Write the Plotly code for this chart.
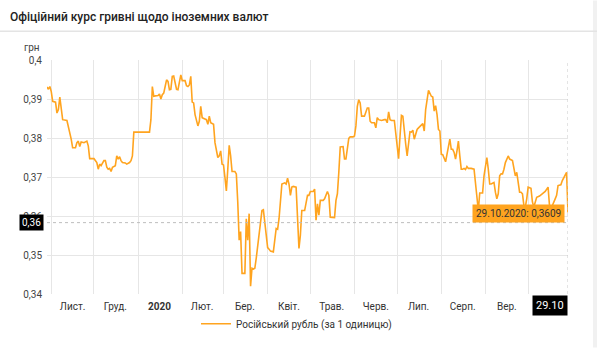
import plotly.graph_objects as go

# Official UAH rate for the Russian rouble (per 1 unit)
dates = [
    "2019-10-29", "2019-10-30", "2019-10-31", "2019-11-01", "2019-11-02", "2019-11-04",
    "2019-11-05", "2019-11-06", "2019-11-07", "2019-11-08", "2019-11-09", "2019-11-12",
    "2019-11-13", "2019-11-15", "2019-11-16", "2019-11-18", "2019-11-19", "2019-11-20",
    "2019-11-21", "2019-11-22", "2019-11-24", "2019-11-26", "2019-11-27", "2019-11-28",
    "2019-12-01", "2019-12-03", "2019-12-04", "2019-12-05", "2019-12-06", "2019-12-08",
    "2019-12-09", "2019-12-10", "2019-12-11", "2019-12-12", "2019-12-13", "2019-12-14",
    "2019-12-16", "2019-12-17", "2019-12-18", "2019-12-19", "2019-12-20", "2019-12-21",
    "2019-12-23", "2019-12-24", "2019-12-26", "2019-12-27", "2019-12-28", "2019-12-29",
    "2020-01-09", "2020-01-10", "2020-01-11", "2020-01-12", "2020-01-13", "2020-01-15",
    "2020-01-16", "2020-01-17", "2020-01-18", "2020-01-19", "2020-01-20", "2020-01-21",
    "2020-01-22", "2020-01-23", "2020-01-24", "2020-01-25", "2020-01-26", "2020-01-27",
    "2020-01-28", "2020-01-29", "2020-01-30", "2020-01-31", "2020-02-01", "2020-02-03",
    "2020-02-04", "2020-02-05", "2020-02-06", "2020-02-07", "2020-02-08", "2020-02-09",
    "2020-02-10", "2020-02-12", "2020-02-13", "2020-02-14", "2020-02-15", "2020-02-17",
    "2020-02-18", "2020-02-19", "2020-02-20", "2020-02-21", "2020-02-23", "2020-02-24",
    "2020-02-26", "2020-02-27", "2020-02-28", "2020-02-29", "2020-03-01", "2020-03-02",
    "2020-03-03", "2020-03-04", "2020-03-05", "2020-03-06", "2020-03-07", "2020-03-09",
    "2020-03-10", "2020-03-11", "2020-03-12", "2020-03-13", "2020-03-14", "2020-03-16",
    "2020-03-17", "2020-03-18", "2020-03-19", "2020-03-20", "2020-03-21", "2020-03-22",
    "2020-03-23", "2020-03-24", "2020-03-25", "2020-03-26", "2020-03-28", "2020-03-29",
    "2020-03-30", "2020-04-01", "2020-04-02", "2020-04-03", "2020-04-05", "2020-04-06",
    "2020-04-07", "2020-04-08", "2020-04-09", "2020-04-11", "2020-04-13", "2020-04-14",
    "2020-04-15", "2020-04-16", "2020-04-17", "2020-04-18", "2020-04-19", "2020-04-21",
    "2020-04-22", "2020-04-23", "2020-04-24", "2020-04-25", "2020-04-27", "2020-04-28",
    "2020-04-29", "2020-04-30", "2020-05-01", "2020-05-03", "2020-05-04", "2020-05-05",
    "2020-05-06", "2020-05-07", "2020-05-08", "2020-05-10", "2020-05-11", "2020-05-13",
    "2020-05-14", "2020-05-15", "2020-05-17", "2020-05-18", "2020-05-19", "2020-05-20",
    "2020-05-21", "2020-05-22", "2020-05-24", "2020-05-25", "2020-05-26", "2020-05-28",
    "2020-05-29", "2020-05-31", "2020-06-01", "2020-06-02", "2020-06-03", "2020-06-04",
    "2020-06-05", "2020-06-06", "2020-06-08", "2020-06-10", "2020-06-11", "2020-06-12",
    "2020-06-13", "2020-06-15", "2020-06-16", "2020-06-17", "2020-06-18", "2020-06-20",
    "2020-06-22", "2020-06-23", "2020-06-24", "2020-06-25", "2020-06-26", "2020-06-27",
    "2020-06-29", "2020-06-30", "2020-07-01", "2020-07-02", "2020-07-03", "2020-07-04",
    "2020-07-05", "2020-07-06", "2020-07-07", "2020-07-08", "2020-07-09", "2020-07-10",
    "2020-07-11", "2020-07-12", "2020-07-13", "2020-07-15", "2020-07-16", "2020-07-18",
    "2020-07-19", "2020-07-20", "2020-07-21", "2020-07-23", "2020-07-25", "2020-07-26",
    "2020-07-27", "2020-07-28", "2020-07-29", "2020-07-30", "2020-07-31", "2020-08-01",
    "2020-08-02", "2020-08-04", "2020-08-05", "2020-08-06", "2020-08-07", "2020-08-08",
    "2020-08-09", "2020-08-10", "2020-08-11", "2020-08-12", "2020-08-13", "2020-08-14",
    "2020-08-15", "2020-08-16", "2020-08-17", "2020-08-18", "2020-08-19", "2020-08-20",
    "2020-08-22", "2020-08-24", "2020-08-25", "2020-08-26", "2020-08-27", "2020-08-28",
    "2020-08-30", "2020-08-31", "2020-09-01", "2020-09-02", "2020-09-03", "2020-09-04",
    "2020-09-05", "2020-09-07", "2020-09-08", "2020-09-09", "2020-09-10", "2020-09-11",
    "2020-09-12", "2020-09-13", "2020-09-14", "2020-09-15", "2020-09-17", "2020-09-18",
    "2020-09-20", "2020-09-22", "2020-09-23", "2020-09-24", "2020-09-25", "2020-09-26",
    "2020-09-27", "2020-09-28", "2020-09-29", "2020-09-30", "2020-10-01", "2020-10-03",
    "2020-10-04", "2020-10-05", "2020-10-07", "2020-10-09", "2020-10-11", "2020-10-13",
    "2020-10-15", "2020-10-16", "2020-10-17", "2020-10-18", "2020-10-20", "2020-10-21",
    "2020-10-22", "2020-10-24", "2020-10-25", "2020-10-27", "2020-10-28", "2020-10-29",
]

rub_rate = [
    0.3931, 0.3925, 0.3932, 0.3919, 0.3894, 0.3892,
    0.3864, 0.3873, 0.3905, 0.3881, 0.3847, 0.3845,
    0.3831, 0.3797, 0.3775, 0.3775, 0.3788, 0.3792,
    0.3778, 0.3790, 0.3788, 0.3792, 0.3780, 0.3747,
    0.3747, 0.3737, 0.3720, 0.3733, 0.3729, 0.3742,
    0.3742, 0.3725, 0.3720, 0.3722, 0.3714, 0.3725,
    0.3729, 0.3754, 0.3746, 0.3752, 0.3742, 0.3737,
    0.3736, 0.3733, 0.3737, 0.3742, 0.3754, 0.3815,
    0.3815, 0.3847, 0.3932, 0.3907, 0.3908, 0.3909,
    0.3913, 0.3900, 0.3911, 0.3915, 0.3932, 0.3949,
    0.3945, 0.3924, 0.3925, 0.3958, 0.3959, 0.3941,
    0.3925, 0.3924, 0.3945, 0.3962, 0.3947, 0.3947,
    0.3934, 0.3932, 0.3936, 0.3958, 0.3892, 0.3890,
    0.3860, 0.3831, 0.3843, 0.3881, 0.3852, 0.3849,
    0.3847, 0.3835, 0.3856, 0.3839, 0.3835, 0.3788,
    0.3750, 0.3754, 0.3767, 0.3733, 0.3731, 0.3699,
    0.3664, 0.3720, 0.3781, 0.3754, 0.3714, 0.3714,
    0.3708, 0.3636, 0.3538, 0.3560, 0.3453, 0.3453,
    0.3593, 0.3538, 0.3606, 0.3420, 0.3466, 0.3464,
    0.3466, 0.3492, 0.3525, 0.3559, 0.3614, 0.3616,
    0.3585, 0.3519, 0.3515, 0.3510, 0.3508, 0.3542,
    0.3568, 0.3566, 0.3593, 0.3682, 0.3685, 0.3682,
    0.3697, 0.3682, 0.3653, 0.3674, 0.3676, 0.3674,
    0.3602, 0.3517, 0.3551, 0.3614, 0.3614, 0.3640,
    0.3653, 0.3653, 0.3663, 0.3663, 0.3669, 0.3589,
    0.3631, 0.3602, 0.3640, 0.3640, 0.3644, 0.3663,
    0.3653, 0.3597, 0.3596, 0.3596, 0.3640, 0.3657,
    0.3712, 0.3777, 0.3778, 0.3746, 0.3746, 0.3799,
    0.3803, 0.3803, 0.3805, 0.3831, 0.3881, 0.3898,
    0.3890, 0.3856, 0.3856, 0.3877, 0.3877, 0.3843,
    0.3839, 0.3839, 0.3826, 0.3852, 0.3847, 0.3845,
    0.3847, 0.3847, 0.3839, 0.3867, 0.3847, 0.3845,
    0.3845, 0.3814, 0.3775, 0.3747, 0.3805, 0.3858,
    0.3856, 0.3814, 0.3784, 0.3754, 0.3788, 0.3816,
    0.3815, 0.3820, 0.3797, 0.3822, 0.3826, 0.3835,
    0.3837, 0.3818, 0.3873, 0.3922, 0.3907, 0.3905,
    0.3869, 0.3883, 0.3860, 0.3822, 0.3818, 0.3758,
    0.3757, 0.3739, 0.3758, 0.3780, 0.3797, 0.3771,
    0.3771, 0.3763, 0.3746, 0.3767, 0.3792, 0.3754,
    0.3720, 0.3720, 0.3722, 0.3719, 0.3727, 0.3722,
    0.3722, 0.3720, 0.3680, 0.3657, 0.3614, 0.3659,
    0.3659, 0.3703, 0.3729, 0.3750, 0.3720, 0.3682,
    0.3682, 0.3686, 0.3661, 0.3644, 0.3657, 0.3703,
    0.3708, 0.3708, 0.3720, 0.3737, 0.3754, 0.3746,
    0.3742, 0.3703, 0.3712, 0.3691, 0.3661, 0.3661,
    0.3657, 0.3627, 0.3623, 0.3644, 0.3674, 0.3671,
    0.3636, 0.3623, 0.3648, 0.3651, 0.3657, 0.3663,
    0.3674, 0.3627, 0.3623, 0.3627, 0.3644, 0.3653,
    0.3678, 0.3680, 0.3691, 0.3708, 0.3712, 0.3609,
]

series_name = "Російський рубль (за 1 одиницю)"

# month labels sit mid-month, grid lines at month starts
month_label_dates = [
    "2019-11-16", "2019-12-16", "2020-01-16", "2020-02-15", "2020-03-16", "2020-04-16",
    "2020-05-16", "2020-06-16", "2020-07-16", "2020-08-16", "2020-09-16",
]
month_labels = [
    "Лист.", "Груд.", "<b>2020</b>", "Лют.", "Бер.", "Квіт.",
    "Трав.", "Черв.", "Лип.", "Серп.", "Вер.",
]
month_starts = [
    "2019-11-01", "2019-12-01", "2020-01-01", "2020-02-01", "2020-03-01", "2020-04-01",
    "2020-05-01", "2020-06-01", "2020-07-01", "2020-08-01", "2020-09-01", "2020-10-01",
]

y_ticks = [0.34, 0.35, 0.36, 0.37, 0.38, 0.39, 0.40]
y_tick_labels = ["0,34", "0,35", "0,36", "0,37", "0,38", "0,39", "0,4"]

cursor_value = 0.3583
cursor_label = "0,36"
cursor_date_label = "29.10"
tooltip_text = "29.10.2020: 0,3609"

LINE = "#FFA41F"
GRID = "#e6e6e6"
FONT = "Roboto"

fig = go.Figure()
fig.add_trace(go.Scatter(
    x=dates, y=rub_rate, mode="lines", name=series_name,
    line=dict(color=LINE, width=1.6), showlegend=True,
))

fig.update_layout(
    width=597, height=350,
    margin=dict(l=47, r=29, t=60, b=54),
    paper_bgcolor="white", plot_bgcolor="white",
    font=dict(family=FONT, size=10, color="#333"),
    showlegend=True,
    legend=dict(
        orientation="h", x=0.286, xanchor="left", y=-0.127, yanchor="middle",
        font=dict(size=10, color="#333"), bgcolor="rgba(0,0,0,0)",
        itemwidth=30,
    ),
    xaxis=dict(
        type="date", range=[dates[0], dates[-1]],
        tickmode="array", tickvals=month_label_dates, ticktext=month_labels,
        showgrid=False, zeroline=False, showline=False, ticks="",
        ticklabelstandoff=5,
        tickfont=dict(size=10, color="#333"),
        minor=dict(tickmode="array", tickvals=month_starts, showgrid=True,
                   gridcolor=GRID, gridwidth=1, ticks=""),
    ),
    yaxis=dict(
        range=[0.34, 0.40], tickmode="array", tickvals=y_ticks, ticktext=y_tick_labels,
        showgrid=True, gridcolor=GRID, gridwidth=1, zeroline=False, showline=False,
        ticks="", ticklabelstandoff=4, tickfont=dict(size=10, color="#444"),
    ),
)

# header bar with title and divider
fig.add_shape(type="line", xref="paper", yref="paper",
              x0=-47 / 521, x1=(597 - 47) / 521, y0=(296 - 31) / 236, y1=(296 - 31) / 236,
              line=dict(color="#e4e4e4", width=1.5))
fig.add_shape(type="rect", xref="paper", yref="paper",
              x0=(593 - 47) / 521, x1=(597 - 47) / 521, y0=-54 / 236, y1=(296) / 236,
              fillcolor="#f1f1f1", line=dict(width=0), layer="below")
fig.add_annotation(xref="paper", yref="paper", x=-39 / 521, y=(296 - 17) / 236,
                   text="Офіційний курс гривні щодо іноземних валют", showarrow=False,
                   xanchor="left", yanchor="middle",
                   font=dict(family=FONT, size=12, color="#222", weight=500))
fig.add_annotation(xref="paper", yref="paper", x=-25 / 521, y=(296 - 47) / 236,
                   text="грн", showarrow=False, xanchor="left", yanchor="middle",
                   font=dict(size=10, color="#444"))

# crosshair
fig.add_shape(type="line", xref="x", yref="paper", x0=dates[-1], x1=dates[-1], y0=0, y1=1,
              line=dict(color="#c8c8c8", width=1, dash="dot"))
fig.add_shape(type="line", xref="paper", yref="y", x0=0, x1=1, y0=cursor_value, y1=cursor_value,
              line=dict(color="#bdbdbd", width=1, dash="dot"))
fig.add_annotation(xref="paper", yref="y", x=0, y=cursor_value, text=cursor_label,
                   showarrow=False, xanchor="right", yanchor="middle", xshift=-3,
                   bgcolor="black", borderpad=2, font=dict(size=10, color="white"))
fig.add_annotation(xref="x", yref="paper", x=dates[-1], y=0, text=cursor_date_label,
                   showarrow=False, xanchor="right", yanchor="top", yshift=-1,
                   bgcolor="black", borderpad=3, font=dict(size=11, color="white"))

# tooltip for the last point
fig.add_annotation(xref="x", yref="y", x=dates[-1], y=rub_rate[-1], text=tooltip_text,
                   showarrow=False, xanchor="right", yanchor="middle", xshift=-3, yshift=-1,
                   bgcolor="#FFA41F", borderpad=3, font=dict(size=10, color="#333"))

fig.write_html("out.html")
